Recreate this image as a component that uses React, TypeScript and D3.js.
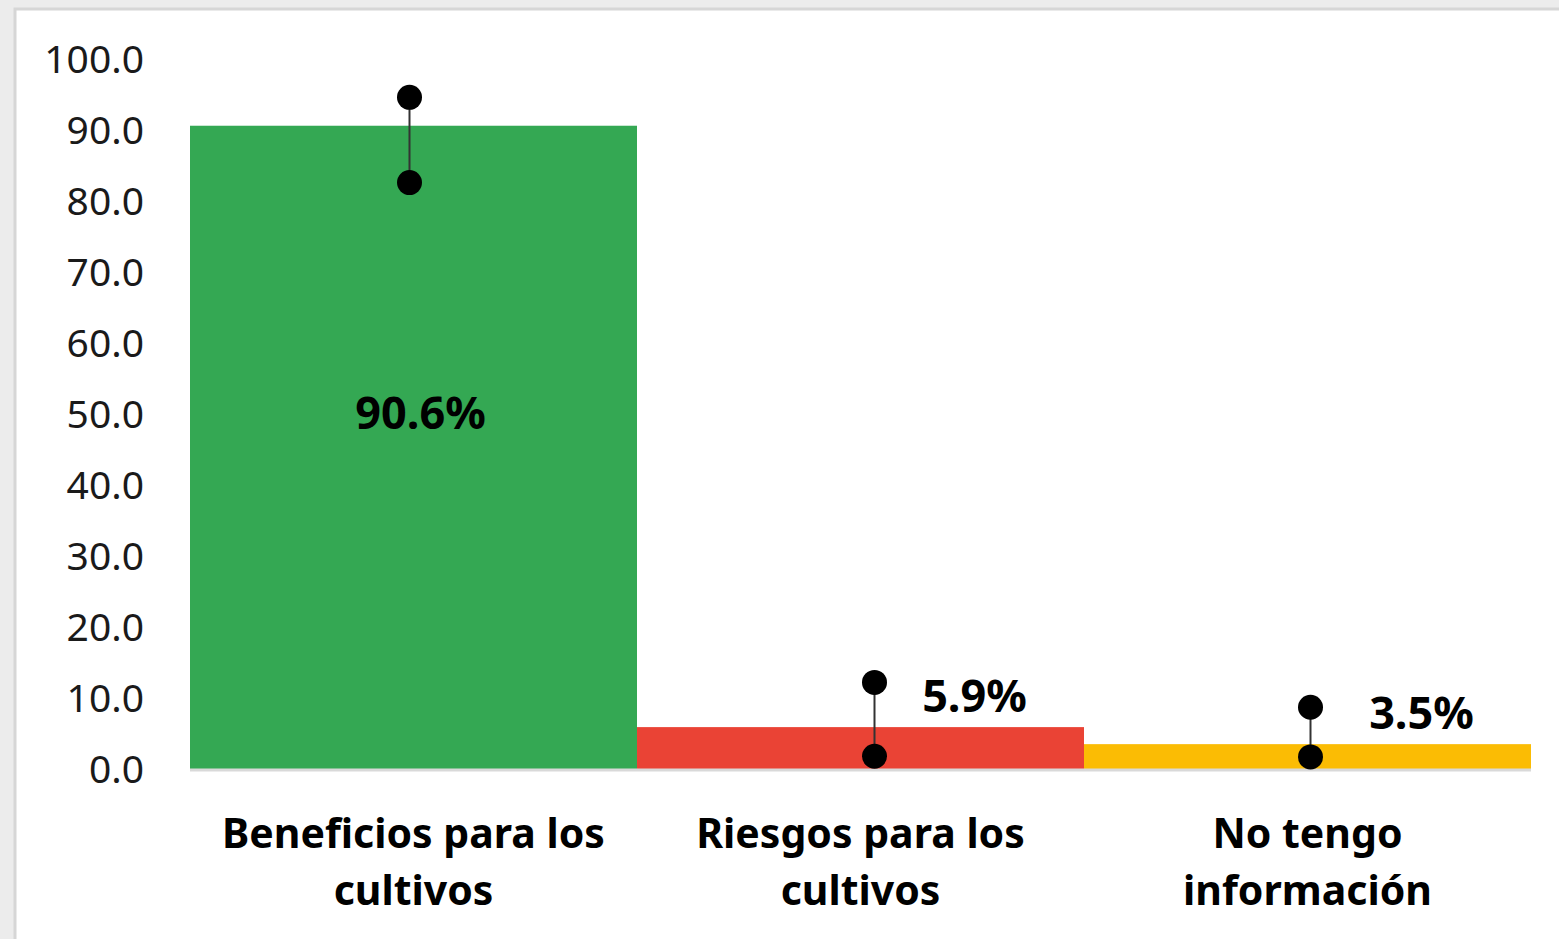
import React from 'react';
import * as d3 from 'd3';

const categories = [['Beneficios para los', 'cultivos'], ['Riesgos para los', 'cultivos'], ['No tengo', 'información']];
const values = [90.6, 5.9, 3.5];
const errHigh = [94.6, 12.2, 8.7];
const errLow = [82.6, 1.8, 1.7];
const colors = ['#34A853', '#EA4335', '#FBBC04'];
const yTicks = [0, 10, 20, 30, 40, 50, 60, 70, 80, 90, 100];

const W = 1559, H = 939;
const font = "'Noto Sans', 'Open Sans', sans-serif";
// error bars were nudged off the bar centre in the original
const errShift = [-4, 14, 3];

export default function App() {
  const x = d3.scaleBand<number>().domain([0, 1, 2]).range([190, 1531]).padding(0);
  const y = d3.scaleLinear().domain([0, 100]).range([769, 59]);
  const fmt = d3.format('.1f');

  return (
    <svg width={W} height={H} style={{ position: 'absolute', left: 0, top: 0 }}>
      <rect x={0} y={0} width={W} height={H} fill="#ececec" />
      <rect x={15} y={9} width={W} height={H} fill="#fff" stroke="#d6d6d6" strokeWidth={3} />
      {yTicks.map(t => (
        <text key={t} x={144} y={y(t)} dy="0.36em" textAnchor="end" fontFamily={font}
          fontSize={39} fill="#1a1a1a">{fmt(t)}</text>
      ))}
      {values.map((v, i) => (
        <rect key={i} x={x(i)} y={y(v)} width={x.bandwidth()} height={y(0) - y(v)} fill={colors[i]} />
      ))}
      <line x1={190} x2={1531} y1={y(0) + 1} y2={y(0) + 1} stroke="#d9d9d9" strokeWidth={3} />
      {values.map((v, i) => {
        const cx = (x(i) as number) + x.bandwidth() / 2 + errShift[i];
        return (
          <g key={i}>
            <line x1={cx} x2={cx} y1={y(errHigh[i])} y2={y(errLow[i])} stroke="#333" strokeWidth={2} />
            <circle cx={cx} cy={y(errHigh[i])} r={12.5} fill="#000" />
            <circle cx={cx} cy={y(errLow[i])} r={12.5} fill="#000" />
          </g>
        );
      })}
      {values.map((v, i) => {
        const cx = (x(i) as number) + x.bandwidth() / 2;
        const inside = v > 50;
        return (
          <text key={i} x={inside ? cx + 7 : cx + 114} y={inside ? y(v / 2) - 35 : y(v) - 15}
            dy={inside ? '0.36em' : 0} textAnchor="middle" fontFamily={font} fontWeight="bold"
            fontSize={45} fill="#000">{v.toFixed(1)}%</text>
        );
      })}
      {categories.map((lines, i) => {
        const cx = (x(i) as number) + x.bandwidth() / 2;
        return (
          <text key={i} textAnchor="middle" fontFamily={font} fontWeight="bold" fontSize={41} fill="#000">
            {lines.map((l, j) => (
              <tspan key={j} x={cx} y={848 + j * 57}>{l}</tspan>
            ))}
          </text>
        );
      })}
    </svg>
  );
}
